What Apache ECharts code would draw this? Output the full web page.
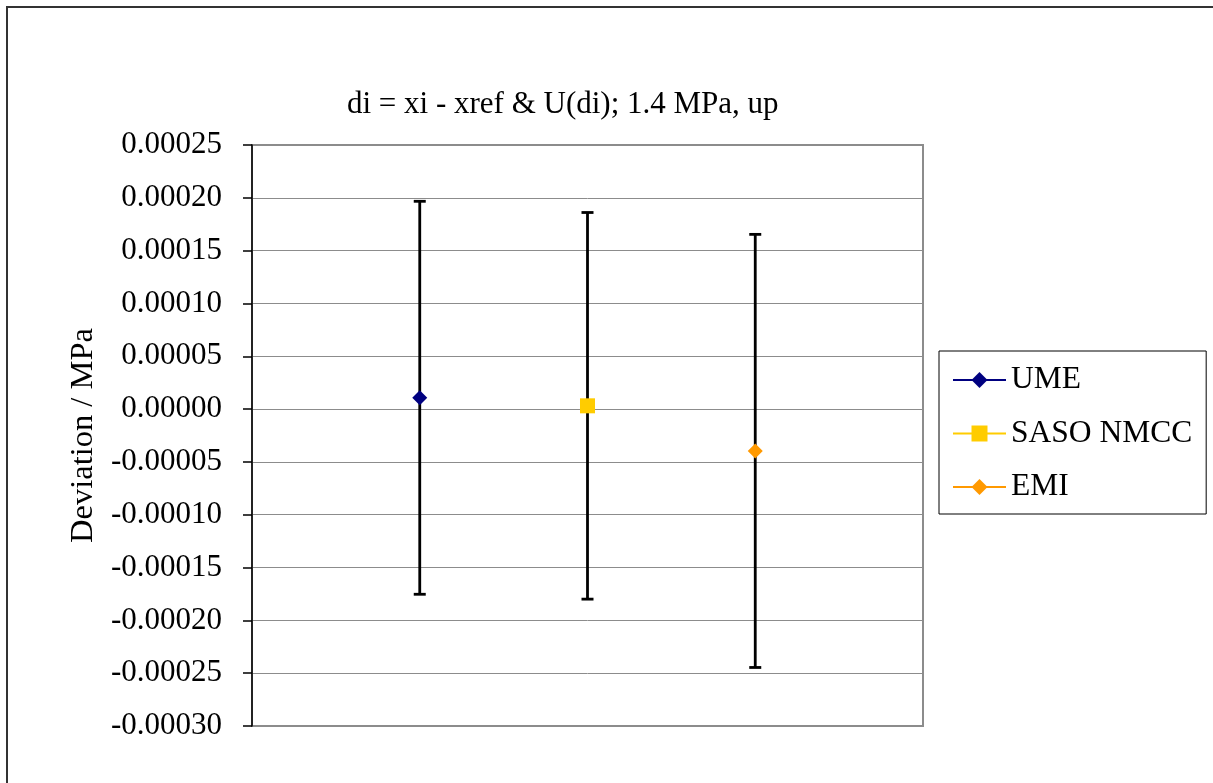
<!DOCTYPE html>
<html>
<head>
<meta charset="utf-8">
<script src="https://cdn.jsdelivr.net/npm/echarts@6/dist/echarts.min.js"></script>
<style>
html,body{margin:0;padding:0;background:#fff;}
#chart{width:1213px;height:783px;}
</style>
</head>
<body>
<div id="chart"></div>
<script>
const titleText = 'di = xi - xref & U(di); 1.4 MPa, up';
const yAxisName = 'Deviation / MPa';
const names = ['UME', 'SASO NMCC', 'EMI'];
const xPos = [1, 2, 3];
const deviations = [0.0000107, 0.0000031, -0.0000396];
const uncertainties = [0.000186, 0.000183, 0.000205];
const yMin = -0.00030, yMax = 0.00025, yStep = 0.00005;
const colors = ['#000080', '#FFCC00', '#FF9900'];
const symbols = ['diamond', 'rect', 'diamond'];

const FONT = "'Liberation Serif', 'Times New Roman', serif";
const chart = echarts.init(document.getElementById('chart'));

const errData = names.map((n, i) => [xPos[i], deviations[i] - uncertainties[i], deviations[i] + uncertainties[i]]);

const series = [{
  type: 'custom',
  name: 'err',
  z: 1,
  silent: true,
  data: errData,
  renderItem: function (params, api) {
    const x = api.value(0);
    const lo = api.coord([x, api.value(1)]);
    const hi = api.coord([x, api.value(2)]);
    const cap = 6;
    const st = { stroke: '#000', lineWidth: 2.8 };
    return {
      type: 'group',
      children: [
        { type: 'line', shape: { x1: lo[0], y1: lo[1], x2: hi[0], y2: hi[1] }, style: st },
        { type: 'line', shape: { x1: lo[0] - cap, y1: lo[1], x2: lo[0] + cap, y2: lo[1] }, style: st },
        { type: 'line', shape: { x1: hi[0] - cap, y1: hi[1], x2: hi[0] + cap, y2: hi[1] }, style: st }
      ]
    };
  }
}];

names.forEach((n, i) => {
  series.push({
    type: 'line',
    name: n,
    z: 3,
    data: [[xPos[i], deviations[i]]],
    symbol: symbols[i],
    symbolSize: 15,
    showSymbol: true,
    itemStyle: { color: colors[i] },
    lineStyle: { color: colors[i], width: i === 0 ? 3 : 1 },
    emphasis: { disabled: true },
    animation: false
  });
});

chart.setOption({
  animation: false,
  backgroundColor: '#fff',
  title: {
    text: titleText,
    left: 342,
    top: 84,
    textStyle: { fontFamily: FONT, fontSize: 31, fontWeight: 'normal', color: '#000' }
  },
  legend: {
    data: names,
    orient: 'vertical',
    left: 939,
    top: 351,
    padding: [13, 14, 11, 13],
    itemGap: 21.5,
    itemWidth: 53,
    itemHeight: 20,
    borderColor: '#000',
    borderWidth: 1,
    textStyle: { fontFamily: FONT, fontSize: 31.5, color: '#000' }
  },
  grid: {
    left: 252, top: 145, right: 290, bottom: 57,
    show: true, borderColor: '#8c8c8c', borderWidth: 2, backgroundColor: '#fff'
  },
  xAxis: {
    type: 'value', min: 0, max: 4,
    axisLine: { show: false }, axisTick: { show: false }, axisLabel: { show: false },
    splitLine: { show: false }
  },
  yAxis: {
    type: 'value', min: yMin, max: yMax, interval: yStep,
    name: yAxisName,
    nameLocation: 'middle',
    nameGap: 149,
    nameTextStyle: { fontFamily: FONT, fontSize: 32.5, color: '#000' },
    axisLine: { show: true, lineStyle: { color: '#000', width: 1.5 } },
    axisTick: { show: true, inside: false, length: 9, lineStyle: { color: '#000', width: 1.5 } },
    axisLabel: {
      margin: 30,
      fontFamily: FONT, fontSize: 31, color: '#000',
      formatter: function (v) { return Math.abs(v) < 1e-12 ? '0.00000' : v.toFixed(5); }
    },
    splitLine: { show: true, lineStyle: { color: '#8c8c8c', width: 1 } }
  },
  graphic: [{
    type: 'rect', z: 100, silent: true,
    shape: { x: 7, y: 7, width: 1230, height: 800 },
    style: { fill: 'none', stroke: '#333', lineWidth: 2 }
  }],
  series: series
});
</script>
</body>
</html>
